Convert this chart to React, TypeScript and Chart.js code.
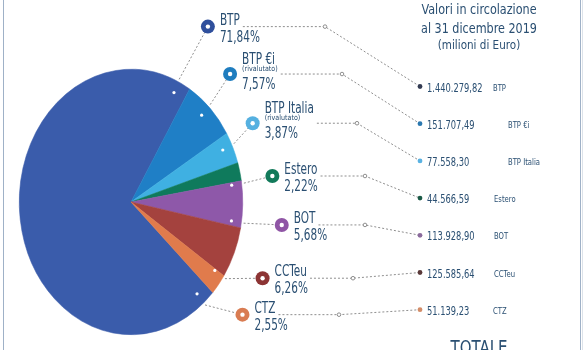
import { useEffect, useRef } from 'react';
import { Chart, registerables } from 'chart.js';

Chart.register(...registerables);

// ---------- data ----------
const categories = ['BTP', 'BTP €i', 'BTP Italia', 'Estero', 'BOT', 'CCTeu', 'CTZ'];
const subLabels = ['', '(rivalutato)', '(rivalutato)', '', '', '', ''];
const values = [1440279.82, 151707.49, 77558.3, 44566.59, 113928.9, 125585.64, 51139.23];
const titleLines = ['Valori in circolazione', 'al 31 dicembre 2019', '(milioni di Euro)'];
const totalLabel = 'TOTALE';

// ---------- styles / layout ----------
const COLORS = ['#3a5cab', '#1f7fc6', '#3fb0e2', '#0f7a5c', '#8e58a9', '#a4423e', '#e07b4c'];
const MARKER_COLORS = ['#2f4f9c', '#1f7dbf', '#55b0e0', '#127a5a', '#8f55a5', '#8c3434', '#d97c52'];
const DOT_COLORS = ['#333b52', '#2a78b0', '#5ab2e2', '#1a5a46', '#8a6a9c', '#5a3a3a', '#d38d68'];
const TEXT = '#2a4f72';
const LINE = '#8e8e8e';
const FONT = "'DejaVu Sans', Verdana, sans-serif";
const SY = 1.1875; // vertical stretch of the pie
const DOT_ANGLE = [25, 44, 64.5, 82, 99, 124.5, 139.5];
const MARKER_ANGLE = [27.5, 42.6, 61.4, 81.2, 97.3, 116, 130.4];
const MARKER_R = [1.49, 1.31, 1.24, 1.28, 1.36, 1.31, 1.31];
const JOINT_X = [325, 342, 357, 365, 365, 353, 339];
const SHORT_X = [493, 508, 508, 494, 494, 494, 493];
const ROW_TOP = 86.5;
const ROW_STEP = 37.2;
const DOT_X = 420;
const VALUE_X = 427;
const TITLE_X = 479;

function fmtIt(v: number, dec: number): string {
  const s = v.toFixed(dec);
  const [int, frac] = s.split('.');
  const grouped = int.replace(/\B(?=(\d{3})+(?!\d))/g, '.');
  return frac !== undefined ? grouped + ',' + frac : grouped;
}

function drawText(
  ctx: CanvasRenderingContext2D,
  text: string,
  x: number,
  y: number,
  size: number,
  color: string,
  align: CanvasTextAlign = 'left',
  sx = 0.7
) {
  ctx.save();
  ctx.font = `${size}px ${FONT}`;
  ctx.fillStyle = color;
  ctx.textAlign = align;
  ctx.textBaseline = 'alphabetic';
  ctx.translate(x, y);
  ctx.scale(sx, 1);
  ctx.fillText(text, 0, 0);
  ctx.restore();
}

function textWidth(ctx: CanvasRenderingContext2D, text: string, size: number, sx: number) {
  ctx.save();
  ctx.font = `${size}px ${FONT}`;
  const w = ctx.measureText(text).width * sx;
  ctx.restore();
  return w;
}

function dashed(ctx: CanvasRenderingContext2D, pts: { x: number; y: number }[]) {
  ctx.save();
  ctx.strokeStyle = LINE;
  ctx.lineWidth = 1;
  ctx.setLineDash([2, 2]);
  ctx.beginPath();
  ctx.moveTo(pts[0].x, pts[0].y);
  for (let i = 1; i < pts.length; i++) ctx.lineTo(pts[i].x, pts[i].y);
  ctx.stroke();
  ctx.restore();
}

function circle(ctx: CanvasRenderingContext2D, x: number, y: number, r: number, fill: string, stroke?: string) {
  ctx.beginPath();
  ctx.arc(x, y, r, 0, Math.PI * 2);
  ctx.fillStyle = fill;
  ctx.fill();
  if (stroke) {
    ctx.strokeStyle = stroke;
    ctx.lineWidth = 1;
    ctx.stroke();
  }
}

const ellipsePlugin = {
  id: 'ellipse',
  beforeDatasetsDraw(chart: any) {
    const el = chart.getDatasetMeta(0).data[0];
    if (!el) return;
    const ctx = chart.ctx;
    ctx.save();
    ctx.translate(el.x, el.y);
    ctx.scale(1, SY);
    ctx.translate(-el.x, -el.y);
  },
  afterDatasetsDraw(chart: any) {
    const el = chart.getDatasetMeta(0).data[0];
    if (!el) return;
    chart.ctx.restore();
  },
};

const overlayPlugin = {
  id: 'overlay',
  afterDraw(chart: any) {
    const ctx: CanvasRenderingContext2D = chart.ctx;
    const el = chart.getDatasetMeta(0).data[0];
    if (!el) return;
    const cx = el.x;
    const cy = el.y;
    const R = el.outerRadius;
    const pt = (deg: number, rf: number) => {
      const a = (deg * Math.PI) / 180;
      return { x: cx + Math.sin(a) * R * rf, y: cy - Math.cos(a) * R * rf * SY };
    };
    const total = values.reduce((a, b) => a + b, 0);

    categories.forEach((name, i) => {
      const m = pt(MARKER_ANGLE[i], MARKER_R[i]);
      const dot = pt(DOT_ANGLE[i], 0.91);
      const start = pt(DOT_ANGLE[i], 1.02);
      const rowY = ROW_TOP + ROW_STEP * i;
      const tx = m.x + 12;
      const hasSub = subLabels[i] !== '';
      const nameW = textWidth(ctx, name, 15, 0.7);
      const subW = hasSub ? textWidth(ctx, subLabels[i], 7.5, 0.85) : 0;
      const lineStart = tx + Math.max(nameW, subW) + 3;
      const jointY = m.y;

      circle(ctx, dot.x, dot.y, 1.6, '#ffffff');
      dashed(ctx, [start, m]);
      dashed(ctx, [
        { x: lineStart, y: jointY },
        { x: JOINT_X[i], y: jointY },
        { x: DOT_X, y: rowY },
      ]);
      circle(ctx, JOINT_X[i], jointY, 1.8, '#ffffff', LINE);

      circle(ctx, m.x, m.y, 7, MARKER_COLORS[i]);
      circle(ctx, m.x, m.y, 2.2, '#ffffff');

      const pct = fmtIt((values[i] / total) * 100, 2) + '%';
      drawText(ctx, name, tx, hasSub ? m.y - 10 : m.y - 2, 15, TEXT, 'left', 0.7);
      if (hasSub) drawText(ctx, subLabels[i], tx, m.y - 3, 7.5, TEXT, 'left', 0.85);
      drawText(ctx, pct, tx, m.y + 15, 15, TEXT, 'left', 0.7);

      circle(ctx, DOT_X, rowY, 2.4, DOT_COLORS[i]);
      drawText(ctx, fmtIt(values[i], 2), VALUE_X, rowY + 5, 13, TEXT, 'left', 0.64);
      drawText(ctx, name, SHORT_X[i], rowY + 4, 9.5, TEXT, 'left', 0.72);
    });

    drawText(ctx, titleLines[0], TITLE_X, 14, 14, TEXT, 'center', 0.8);
    drawText(ctx, titleLines[1], TITLE_X, 33, 14, TEXT, 'center', 0.8);
    drawText(ctx, titleLines[2], TITLE_X, 48.5, 13, TEXT, 'center', 0.8);
    drawText(ctx, totalLabel, TITLE_X, 354, 20, TEXT, 'center', 0.75);

    ctx.save();
    ctx.strokeStyle = '#9fb1c7';
    ctx.lineWidth = 1;
    ctx.beginPath();
    ctx.moveTo(3.5, 0);
    ctx.lineTo(3.5, 350);
    ctx.moveTo(580.5, 0);
    ctx.lineTo(580.5, 350);
    ctx.stroke();
    ctx.strokeStyle = '#dde3ea';
    ctx.beginPath();
    ctx.moveTo(582.5, 0);
    ctx.lineTo(582.5, 350);
    ctx.stroke();
    ctx.restore();
  },
};

export default function App() {
  const ref = useRef<HTMLCanvasElement>(null);
  useEffect(() => {
    if (!ref.current) return;
    const chart = new Chart(ref.current, {
      type: 'pie',
      data: {
        labels: categories,
        datasets: [
          {
            data: values,
            backgroundColor: COLORS,
            borderColor: COLORS,
            borderWidth: 0.5,
          },
        ],
      },
      options: {
        responsive: false,
        animation: false,
        rotation: 133,
        layout: { padding: { left: 19, top: 90, right: 342, bottom: 36 } },
        plugins: {
          legend: { display: false },
          tooltip: { enabled: false },
        },
      },
      plugins: [ellipsePlugin, overlayPlugin],
    } as any);
    return () => chart.destroy();
  }, []);
  return (
    <div style={{ position: 'absolute', left: 0, top: 0, width: 585, height: 350, background: '#ffffff' }}>
      <canvas ref={ref} width={585} height={350} style={{ display: 'block' }} />
    </div>
  );
}
